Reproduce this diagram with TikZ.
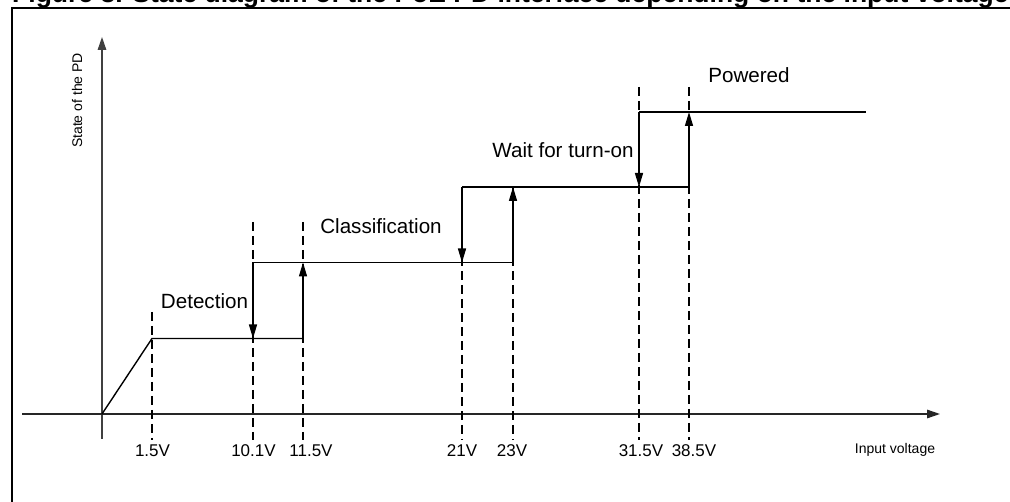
\documentclass[tikz,border=0pt]{standalone}
\usepackage{fontspec}
\setmainfont{Liberation Sans}
\usetikzlibrary{arrows.meta}
\begin{document}
\begin{tikzpicture}[x=1pt,y=-1pt,
  frameline/.style={line width=1.8pt},
  axisline/.style={line width=1.4pt, black!75, -{Triangle[length=13pt,width=8.5pt]}},
  levelline/.style={line width=1.4pt},
  jumpline/.style={line width=1.4pt, -{Triangle[length=14pt,width=8pt]}},
  vdash/.style={line width=2.4pt, dash pattern=on 9pt off 5pt},
  statelbl/.style={font=\fontsize{20.6}{24}\selectfont, anchor=base, inner sep=0pt},
  ticklbl/.style={font=\fontsize{17}{20}\selectfont, anchor=base, inner sep=0pt},
  axislbl/.style={font=\fontsize{14}{17}\selectfont, anchor=base, inner sep=0pt},
  titlelbl/.style={font=\fontsize{26.5}{30}\selectfont\bfseries, anchor=base west, inner sep=0pt}]
\useasboundingbox (0,0) rectangle (1010,502);
\clip (0,0) rectangle (1010,502);
\fill[white] (0,0) rectangle (1010,502);

% title (cut at the top) and frame
\node[titlelbl] (title) at (12,3) {Figure 3. State diagram of the PoE PD interface depending on the input voltage};
\coordinate (fbl) at (12,510);
\coordinate (ftl) at (12,8);
\coordinate (ftr) at (1015,8);
\draw[frameline] (fbl) -- (ftl) -- (ftr);

% axes
\coordinate (O) at (102,414);
\coordinate (ybot) at (102,439);
\coordinate (ytop) at (102,37);
\coordinate (xleft) at (22,414);
\coordinate (xright) at (940,414);
\draw[axisline] (ybot) -- (ytop);
\draw[axisline, black!85] (xleft) -- (xright);

% dashed threshold lines
\foreach \n/\x/\t in {a/152/312, b/253/222, c/303/222, d/462/187, e/513/187, f/639/87, g/689/87}{
  \coordinate (\n top) at (\x,\t);
  \coordinate (\n bot) at (\x,440);
  \draw[vdash] (\n top) -- (\n bot);
}

% levels
\coordinate (a1) at (152,338.5);
\coordinate (c1) at (303,338.5);
\coordinate (b1) at (253,338.5);
\coordinate (b2) at (253,262.5);
\coordinate (c2) at (303,262.5);
\coordinate (e2) at (513,262.5);
\coordinate (d2) at (462,262.5);
\coordinate (d3) at (462,187);
\coordinate (e3) at (513,187);
\coordinate (g3) at (689,187);
\coordinate (f3) at (639,187);
\coordinate (f4) at (639,112);
\coordinate (g4) at (689,112);
\coordinate (h4) at (866,112);

\draw[levelline] (O) -- (a1) -- (c1);
\draw[levelline] (b2) -- (e2);
\draw[levelline] (d3) -- (g3);
\draw[levelline] (f4) -- (h4);

\draw[jumpline] (c1) -- (c2);
\draw[jumpline] (b2) -- (b1);
\draw[jumpline] (e2) -- (e3);
\draw[jumpline] (d3) -- (d2);
\draw[jumpline] (g3) -- (g4);
\draw[jumpline] (f4) -- (f3);

% state labels
\node[statelbl] (det) at (204.5,309) {Detection};
\node[statelbl] (cls) at (381,234) {Classification};
\node[statelbl] (wait) at (563,158) {Wait for turn-on};
\node[statelbl] (pow) at (749,83) {Powered};

% tick labels
\node[ticklbl] (t1) at (152.5,457) {1.5V};
\node[ticklbl] (t2) at (253.5,457) {10.1V};
\node[ticklbl] (t3) at (311,457) {11.5V};
\node[ticklbl] (t4) at (462,457) {21V};
\node[ticklbl] (t5) at (512,457) {23V};
\node[ticklbl] (t6) at (641,457) {31.5V};
\node[ticklbl] (t7) at (694,457) {38.5V};

% axis labels
\node[axislbl] (xl) at (895,454) {Input voltage};
\node[axislbl, rotate=90] (yl) at (82,100.5) {State of the PD};
\end{tikzpicture}
\end{document}
